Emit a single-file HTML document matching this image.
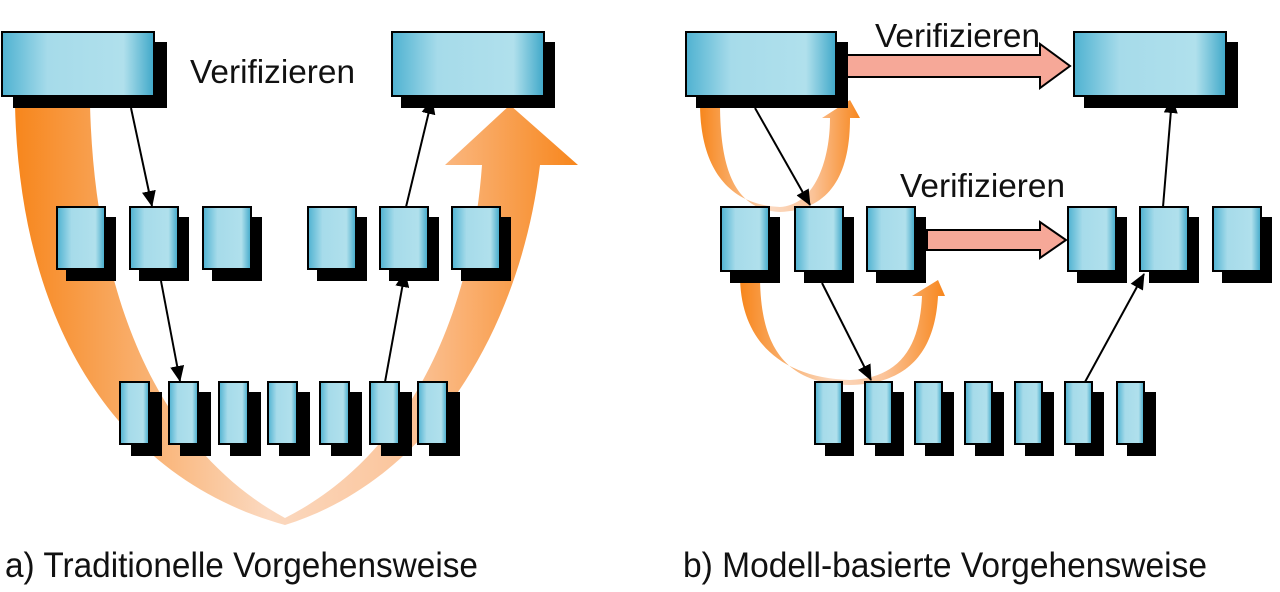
<!DOCTYPE html>
<html><head><meta charset="utf-8"><style>html,body{margin:0;padding:0;background:#fff;width:1280px;height:592px;overflow:hidden}</style></head>
<body>
<svg width="1280" height="592" viewBox="0 0 1280 592" xmlns="http://www.w3.org/2000/svg">
<defs>
<linearGradient id="bx" x1="0" x2="1" y1="0" y2="0">
<stop offset="0" stop-color="#4fb2d1"/><stop offset="0.3" stop-color="#a6dbea"/><stop offset="0.8" stop-color="#b0e0ec"/><stop offset="1" stop-color="#3fa8c9"/></linearGradient>
<linearGradient id="orU" x1="0" x2="1" y1="0" y2="0">
<stop offset="0" stop-color="#f7861c"/><stop offset="0.45" stop-color="#fbd9c0"/><stop offset="0.7" stop-color="#fbc49a"/><stop offset="1" stop-color="#f7861c"/></linearGradient>
<marker id="ah" markerWidth="16" markerHeight="14" refX="15" refY="7" orient="auto" markerUnits="userSpaceOnUse" viewBox="0 0 16 14"><path d="M0,0 L16,7 L0,14 z" fill="#000"/></marker>
</defs>

<path d="M15,105 C20,330 120,480 285,525 C430,480 520,330 540,165 L578,165 L510,105 L445,165 L482,165 C470,330 400,460 285,518 C160,450 95,300 90,105 Z" fill="url(#orU)"/>

<path d="M700,103 C700,170 730,205 780,207 C815,205 830,160 830,118 L822,118 L850,100 L860,118 L850,118 C850,175 830,210 780,212 C735,210 720,170 720,103 Z" fill="url(#orU)"/>
<path d="M740,275 C740,340 780,378 850,380 C905,378 920,340 922,296 L912,296 L938,280 L945,296 L938,296 C935,350 910,384 850,385 C780,384 760,340 760,275 Z" fill="url(#orU)"/>

<g stroke="#000" stroke-width="2">
<rect x="14" y="43" width="152" height="64" fill="#000"/>
<rect x="2" y="32" width="152" height="64" fill="url(#bx)"/>
<rect x="402" y="43" width="152" height="64" fill="#000"/>
<rect x="392" y="32" width="152" height="64" fill="url(#bx)"/>
<rect x="697" y="43" width="150" height="64" fill="#000"/>
<rect x="686" y="32" width="150" height="64" fill="url(#bx)"/>
<rect x="1085" y="43" width="152" height="64" fill="#000"/>
<rect x="1074" y="32" width="152" height="64" fill="url(#bx)"/>

<rect x="67" y="218" width="48" height="62" fill="#000"/><rect x="57" y="207" width="48" height="62" fill="url(#bx)"/>
<rect x="140" y="218" width="48" height="62" fill="#000"/><rect x="130" y="207" width="48" height="62" fill="url(#bx)"/>
<rect x="213" y="218" width="48" height="62" fill="#000"/><rect x="203" y="207" width="48" height="62" fill="url(#bx)"/>
<rect x="318" y="218" width="48" height="62" fill="#000"/><rect x="308" y="207" width="48" height="62" fill="url(#bx)"/>
<rect x="390" y="218" width="48" height="62" fill="#000"/><rect x="380" y="207" width="48" height="62" fill="url(#bx)"/>
<rect x="462" y="218" width="48" height="62" fill="#000"/><rect x="452" y="207" width="48" height="62" fill="url(#bx)"/>

<rect x="731" y="218" width="48" height="64" fill="#000"/><rect x="721" y="207" width="48" height="64" fill="url(#bx)"/>
<rect x="805" y="218" width="48" height="64" fill="#000"/><rect x="795" y="207" width="48" height="64" fill="url(#bx)"/>
<rect x="877" y="218" width="48" height="64" fill="#000"/><rect x="867" y="207" width="48" height="64" fill="url(#bx)"/>
<rect x="1078" y="218" width="48" height="64" fill="#000"/><rect x="1068" y="207" width="48" height="64" fill="url(#bx)"/>
<rect x="1150" y="218" width="48" height="64" fill="#000"/><rect x="1140" y="207" width="48" height="64" fill="url(#bx)"/>
<rect x="1223" y="218" width="48" height="64" fill="#000"/><rect x="1213" y="207" width="48" height="64" fill="url(#bx)"/>

<rect x="132" y="393" width="29" height="62" fill="#000"/><rect x="120" y="382" width="29" height="62" fill="url(#bx)"/>
<rect x="181" y="393" width="29" height="62" fill="#000"/><rect x="169" y="382" width="29" height="62" fill="url(#bx)"/>
<rect x="231" y="393" width="29" height="62" fill="#000"/><rect x="219" y="382" width="29" height="62" fill="url(#bx)"/>
<rect x="280" y="393" width="29" height="62" fill="#000"/><rect x="268" y="382" width="29" height="62" fill="url(#bx)"/>
<rect x="332" y="393" width="29" height="62" fill="#000"/><rect x="320" y="382" width="29" height="62" fill="url(#bx)"/>
<rect x="382" y="393" width="29" height="62" fill="#000"/><rect x="370" y="382" width="29" height="62" fill="url(#bx)"/>
<rect x="430" y="393" width="29" height="62" fill="#000"/><rect x="418" y="382" width="29" height="62" fill="url(#bx)"/>

<rect x="826" y="393" width="27" height="62" fill="#000"/><rect x="815" y="382" width="27" height="62" fill="url(#bx)"/>
<rect x="876" y="393" width="27" height="62" fill="#000"/><rect x="865" y="382" width="27" height="62" fill="url(#bx)"/>
<rect x="926" y="393" width="27" height="62" fill="#000"/><rect x="915" y="382" width="27" height="62" fill="url(#bx)"/>
<rect x="976" y="393" width="27" height="62" fill="#000"/><rect x="965" y="382" width="27" height="62" fill="url(#bx)"/>
<rect x="1026" y="393" width="27" height="62" fill="#000"/><rect x="1015" y="382" width="27" height="62" fill="url(#bx)"/>
<rect x="1076" y="393" width="27" height="62" fill="#000"/><rect x="1065" y="382" width="27" height="62" fill="url(#bx)"/>
<rect x="1128" y="393" width="27" height="62" fill="#000"/><rect x="1117" y="382" width="27" height="62" fill="url(#bx)"/>
</g>

<path d="M847,55 L1040,55 L1040,44 L1070,66 L1040,88 L1040,77 L847,77 Z" fill="#f6a898" stroke="#000" stroke-width="2"/>
<path d="M927,230 L1040,230 L1040,222 L1066,240 L1040,258 L1040,250 L927,250 Z" fill="#f6a898" stroke="#000" stroke-width="2"/>

<g stroke="#000" stroke-width="2" marker-end="url(#ah)">
<line x1="131" y1="108" x2="152" y2="206"/>
<line x1="161" y1="281" x2="180" y2="381"/>
<line x1="385" y1="382" x2="405" y2="272"/>
<line x1="406" y1="207" x2="432" y2="99"/>
<line x1="755" y1="108" x2="810" y2="205"/>
<line x1="822" y1="283" x2="871" y2="380"/>
<line x1="1085" y1="382" x2="1144" y2="274"/>
<line x1="1163" y1="207" x2="1172" y2="98"/>
</g>

<g font-family="'Liberation Sans', sans-serif" fill="#111">
<text x="190" y="83" font-size="33" textLength="165" lengthAdjust="spacingAndGlyphs">Verifizieren</text>
<text x="875" y="47" font-size="33" textLength="165" lengthAdjust="spacingAndGlyphs">Verifizieren</text>
<text x="900" y="197" font-size="33" textLength="165" lengthAdjust="spacingAndGlyphs">Verifizieren</text>
<text x="5" y="577" font-size="35" textLength="473" lengthAdjust="spacingAndGlyphs">a) Traditionelle Vorgehensweise</text>
<text x="683" y="577" font-size="35" textLength="524" lengthAdjust="spacingAndGlyphs">b) Modell-basierte Vorgehensweise</text>
</g>
</svg>
</body></html>
